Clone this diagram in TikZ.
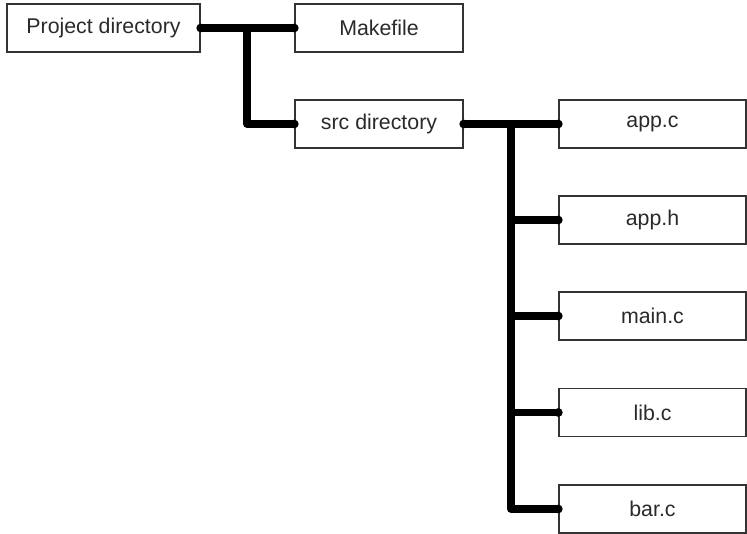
\documentclass[tikz,border=0pt]{standalone}
\usepackage{fontspec}
\setmainfont{Liberation Sans}
\definecolor{boxline}{HTML}{333333}
\definecolor{txt}{HTML}{2A2A2A}
\tikzset{
  fbox/.style={draw=boxline, line width=1.1pt, fill=white, inner sep=0pt,
    minimum height={48*0.75pt}, text=txt, font=\fontsize{16pt}{18pt}\selectfont},
  conn/.style={line width=5.6pt, line join=round, black},
  enddot/.style={fill=black, draw=none}
}
\begin{document}
\begin{tikzpicture}[x=0.75pt, y=-0.75pt]
\fill[white] (0,0) rectangle (747,534);
\useasboundingbox (0,0) rectangle (747,534);
\node[fbox, minimum width={193*0.75pt}] (proj) at (103.5,28) {Project directory};
\node[fbox, minimum width={168*0.75pt}] (mk) at (379,28) {Makefile};
\node[fbox, minimum width={168*0.75pt}] (src) at (379,124) {src directory};
\node[fbox, minimum width={187*0.75pt}] (appc) at (652.5,124) {app.c};
\node[fbox, minimum width={187*0.75pt}] (apph) at (652.5,220) {app.h};
\node[fbox, minimum width={187*0.75pt}] (mainc) at (652.5,316) {main.c};
\node[fbox, minimum width={187*0.75pt}] (libc) at (652.5,412.5) {lib.c};
\node[fbox, minimum width={187*0.75pt}] (barc) at (652.5,509) {bar.c};
\coordinate (t1) at (247,28);
\coordinate (t2) at (511,124);
\draw[conn] (proj.east) -- (mk.west);
\draw[conn] (t1) |- (src.west);
\draw[conn] (src.east) -- (appc.west);
\draw[conn] (t2) |- (barc.west);
\draw[conn] (t2 |- apph.west) -- (apph.west);
\draw[conn] (t2 |- mainc.west) -- (mainc.west);
\draw[conn] (t2 |- libc.west) -- (libc.west);
\foreach \n in {proj.east, mk.west, src.west, src.east, appc.west, apph.west, mainc.west, libc.west, barc.west}
  \fill[enddot] (\n) circle (3.3pt);
\end{tikzpicture}
\end{document}
